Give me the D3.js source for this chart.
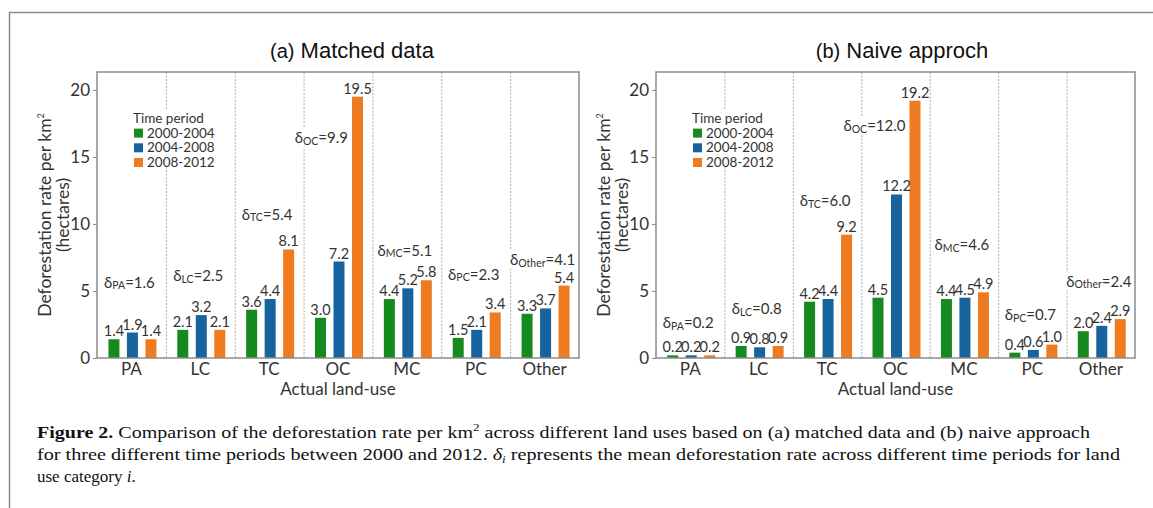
<!DOCTYPE html>
<html>
<head>
<meta charset="utf-8">
<script src="https://cdn.jsdelivr.net/npm/d3@7.9.0/dist/d3.min.js"></script>
<style>
  body { margin: 0; background: #fff; }
  svg { display: block; }
</style>
</head>
<body>
<svg id="chart" width="1153" height="508"></svg>
<script>
const categories = ["PA", "LC", "TC", "OC", "MC", "PC", "Other"];
const periods = ["2000-2004", "2004-2008", "2008-2012"];
const yTicks = [0, 5, 10, 15, 20];

// (a) matched data
const matched2000 = [1.4, 2.1, 3.6, 3.0, 4.4, 1.5, 3.3];
const matched2004 = [1.9, 3.2, 4.4, 7.2, 5.2, 2.1, 3.7];
const matched2008 = [1.4, 2.1, 8.1, 19.5, 5.8, 3.4, 5.4];
const matchedDelta = [1.6, 2.5, 5.4, 9.9, 5.1, 2.3, 4.1];

// (b) naive approach
const naive2000 = [0.2, 0.9, 4.2, 4.5, 4.4, 0.4, 2.0];
const naive2004 = [0.2, 0.8, 4.4, 12.2, 4.5, 0.6, 2.4];
const naive2008 = [0.2, 0.9, 9.2, 19.2, 4.9, 1.0, 2.9];
const naiveDelta = [0.2, 0.8, 6.0, 12.0, 4.6, 0.7, 2.4];

const colors = d3.scaleOrdinal().domain(periods).range(["#168a1e", "#16639e", "#ee7b1f"]);
const sans = "Lato, 'Open Sans', sans-serif";
const ink = "#333";

const svg = d3.select("#chart");

// outer figure frame (open to the right and bottom)
svg.append("path")
   .attr("d", "M1160,12.5 H9.5 V515")
   .attr("fill", "none")
   .attr("stroke", "#8c8c8c")
   .attr("stroke-width", 1.5);

function drawPanel(opts) {
    const { left, right, title, titleX, series, delta, deltaAt, legendX } = opts;
    const top = 72, bottom = 358;
    const g = svg.append("g");

    const x = d3.scaleBand().domain(categories).range([left, right]);
    const y = d3.scaleLinear().domain([0, 21.34]).range([bottom, top]);
    const inner = d3.scaleBand().domain(periods)
        .range([x.bandwidth() / 2 - 23, x.bandwidth() / 2 + 25])
        .paddingInner(0.405);

    // title
    const t = g.append("text")
       .attr("x", titleX).attr("y", 58)
       .attr("text-anchor", "middle")
       .attr("font-family", "'Liberation Sans', Arial, sans-serif")
       .attr("font-size", 22).attr("fill", "#111");
    t.append("tspan").attr("font-size", 20).text(title[0]);
    t.append("tspan").text(" " + title[1]);

    // separators
    g.selectAll(".sep").data(categories.slice(1)).join("line")
       .attr("x1", d => x(d) + 0.5).attr("x2", d => x(d) + 0.5)
       .attr("y1", top).attr("y2", bottom)
       .attr("stroke", "#aaa").attr("stroke-width", 1)
       .attr("stroke-dasharray", "2,1.5");

    // bars
    const rows = categories.map((c, i) => ({ c, i, vals: series.map(s => s[i]) }));
    const grp = g.selectAll(".grp").data(rows).join("g")
       .attr("transform", d => `translate(${x(d.c)},0)`);

    grp.selectAll("rect").data(d => d.vals.map((v, k) => ({ v, p: periods[k] }))).join("rect")
       .attr("x", d => inner(d.p))
       .attr("width", inner.bandwidth())
       .attr("y", d => y(d.v))
       .attr("height", d => bottom - y(d.v))
       .attr("fill", d => colors(d.p));

    grp.selectAll(".val").data(d => d.vals.map((v, k) => ({ v, p: periods[k] }))).join("text")
       .attr("x", d => inner(d.p) + inner.bandwidth() / 2)
       .attr("y", d => y(d.v) - 3)
       .attr("text-anchor", "middle")
       .attr("font-family", sans).attr("font-size", 14.5).attr("fill", ink)
       .text(d => d.v.toFixed(1));

    // delta labels (OC one sits beside its tall bar)
    rows.forEach(d => {
        const side = d.c === "OC";
        const lx = side ? x(d.c) + inner("2008-2012") - 4 : x(d.c) + x.bandwidth() / 2 - 2;
        const ly = y(deltaAt[d.i]);
        const lab = g.append("g");
        const txt = lab.append("text")
           .attr("x", lx).attr("y", ly + 5)
           .attr("text-anchor", side ? "end" : "middle")
           .attr("font-family", sans).attr("font-size", 15).attr("fill", ink);
        txt.append("tspan").text("δ");
        txt.append("tspan").attr("font-size", 10.5).attr("dy", 1.5).text(d.c);
        txt.append("tspan").attr("dy", -1.5).text("=" + delta[d.i].toFixed(1));
        const bb = txt.node().getBBox();
        lab.insert("rect", "text")
           .attr("x", bb.x - 2).attr("y", bb.y)
           .attr("width", bb.width + 4).attr("height", bb.height)
           .attr("fill", "#fff");
    });

    // plot frame
    g.append("rect")
       .attr("x", left).attr("y", top)
       .attr("width", right - left).attr("height", bottom - top)
       .attr("fill", "none").attr("stroke", "#8c8c8c").attr("stroke-width", 1.5);

    // y axis ticks
    const yAxis = g.append("g")
       .attr("transform", `translate(${left},0)`)
       .call(d3.axisLeft(y).tickValues(yTicks).tickSize(4).tickPadding(3));
    yAxis.select(".domain").remove();
    yAxis.selectAll("line").attr("stroke", "#8c8c8c");
    yAxis.selectAll("text")
       .attr("font-family", sans).attr("font-size", 17).attr("fill", ink);

    // x axis labels
    const xAxis = g.append("g")
       .attr("transform", `translate(0,${bottom})`)
       .call(d3.axisBottom(x).tickSize(0).tickPadding(5));
    xAxis.select(".domain").remove();
    xAxis.selectAll("text")
       .attr("font-family", sans).attr("font-size", 17).attr("fill", ink);

    g.append("text")
       .attr("x", (left + right) / 2).attr("y", 395)
       .attr("text-anchor", "middle")
       .attr("font-family", sans).attr("font-size", 17).attr("fill", ink)
       .text("Actual land-use");

    // y axis title
    const yl = g.append("text")
       .attr("transform", `translate(${left - 46},${(top + bottom) / 2}) rotate(-90)`)
       .attr("text-anchor", "middle")
       .attr("font-family", sans).attr("font-size", 17.5).attr("fill", ink);
    yl.append("tspan").attr("x", 0).attr("y", 0).text("Deforestation rate per km");
    yl.append("tspan").attr("font-size", 9).attr("dy", -7).text("2");
    yl.append("tspan").attr("x", 0).attr("y", 18).text("(hectares)");

    // legend
    const lg = g.append("g").attr("transform", `translate(${legendX},${y(17.9)})`);
    lg.append("rect").attr("x", -3).attr("y", -9).attr("width", 76).attr("height", 58).attr("fill", "#fff");
    lg.append("text").attr("x", 0).attr("y", 5)
       .attr("font-family", sans).attr("font-size", 13.5).attr("fill", ink)
       .text("Time period");
    const items = lg.selectAll(".item").data(periods).join("g")
       .attr("transform", (d, i) => `translate(1,${15 + i * 14.7})`);
    items.append("rect").attr("width", 9).attr("height", 9).attr("y", -4.5).attr("fill", d => colors(d));
    items.append("text").attr("x", 13).attr("y", 4.5)
       .attr("font-family", sans).attr("font-size", 13.5).attr("fill", ink)
       .text(d => d);
}

drawPanel({
    left: 97, right: 579, title: ["(a)", "Matched data"], titleX: 352,
    series: [matched2000, matched2004, matched2008], delta: matchedDelta,
    deltaAt: [5.6, 6.1, 10.7, 16.4, 8.0, 6.2, 7.3], legendX: 133
});
drawPanel({
    left: 656, right: 1135, title: ["(b)", "Naive approch"], titleX: 902,
    series: [naive2000, naive2004, naive2008], delta: naiveDelta,
    deltaAt: [2.6, 3.65, 11.7, 17.3, 8.4, 3.2, 5.7], legendX: 692
});

// caption
const serif = "'Liberation Serif', 'Times New Roman', serif";
const c1 = svg.append("text").attr("x", 37).attr("y", 438)
   .attr("font-family", serif).attr("font-size", 17).attr("fill", "#111")
   .attr("textLength", 1053).attr("lengthAdjust", "spacingAndGlyphs");
c1.append("tspan").attr("font-weight", "bold").text("Figure 2.");
c1.append("tspan").text(" Comparison of the deforestation rate per km");
c1.append("tspan").attr("font-size", 11).attr("dy", -7).text("2");
c1.append("tspan").attr("dy", 7).text(" across different land uses based on (a) matched data and (b) naive approach");

const c2 = svg.append("text").attr("x", 37).attr("y", 460)
   .attr("font-family", serif).attr("font-size", 17).attr("fill", "#111")
   .attr("textLength", 1083).attr("lengthAdjust", "spacingAndGlyphs");
c2.append("tspan").text("for three different time periods between 2000 and 2012. ");
c2.append("tspan").attr("font-style", "italic").text("δ");
c2.append("tspan").attr("font-style", "italic").attr("font-size", 11).attr("dy", 3).text("i");
c2.append("tspan").attr("dy", -3).text(" represents the mean deforestation rate across different time periods for land");

const c3 = svg.append("text").attr("x", 37).attr("y", 482)
   .attr("font-family", serif).attr("font-size", 17).attr("fill", "#111");
c3.append("tspan").text("use category ");
c3.append("tspan").attr("font-style", "italic").text("i");
c3.append("tspan").text(".");
</script>
</body>
</html>
